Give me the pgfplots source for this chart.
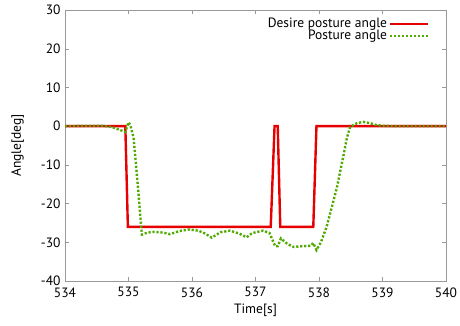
\documentclass[border=0pt]{standalone}
\usepackage{pgfplots}
\pgfplotsset{compat=1.18}
\usepackage{fontspec}
\setmainfont{PT Sans}
\definecolor{myred}{RGB}{230,0,0}
\definecolor{mygreen}{RGB}{80,170,0}
\begin{document}
\begin{tikzpicture}
\useasboundingbox (-65pt,-44pt) rectangle (395pt,281pt);
\begin{axis}[
  at={(0,0)}, anchor=south west,
  scale only axis, width=381pt, height=271pt,
  xmin=534, xmax=540, ymin=-40, ymax=30,
  xtick={534,535,...,540}, ytick={-40,-30,...,30},
  /pgf/number format/assume math mode=true,
  /pgf/number format/1000 sep={},
  tick label style={font=\fontsize{13.5}{15}\selectfont},
  label style={font=\fontsize{13.5}{15}\selectfont},
  xticklabel style={yshift=-3pt},
  yticklabel style={xshift=-1pt},
  xlabel={Time[s]}, ylabel={Angle[deg]},
  xlabel style={yshift=0pt},
  ylabel style={yshift=10pt},
  axis line style={gray!80},
  tick style={gray!80, thin},
  tick align=inside,
  major tick length=4pt,
  legend plot pos=right,
  legend cell align=right,
  legend image code/.code={\draw[#1] (0pt,0pt) -- (38pt,0pt);},
  legend style={draw=none, fill=none, at={(0.965,0.985)}, anchor=north east,
    font=\fontsize{13.5}{14}\selectfont, row sep=-3pt},
]
\addplot[myred, line width=2.4pt] coordinates {
(534,0) (534.95,0) (534.99,-26) (537.24,-26) (537.30,0) (537.35,0) (537.39,-26) (537.91,-26) (537.96,0) (540,0)};
\addlegendentry{Desire posture angle}
\addplot[mygreen, line width=2.4pt, dash pattern=on 2.2pt off 1.8pt] coordinates {
(534,0)(534.3,0.1)(534.6,0.1)(534.75,-0.3)(534.9,-1.2)(534.95,-1.5)(535.0,1.0)(535.03,0.2)(535.08,-3)(535.15,-16)(535.21,-28)(535.3,-27.5)(535.4,-27.3)(535.55,-27.5)(535.65,-27.9)(535.8,-27.1)(535.95,-26.7)(536.1,-27.0)(536.2,-27.7)(536.31,-28.8)(536.45,-27.4)(536.6,-27.0)(536.75,-27.8)(536.86,-28.7)(536.95,-27.6)(537.12,-27.0)(537.22,-27.6)(537.27,-29.5)(537.31,-31.0)(537.35,-31.0)(537.40,-29.0)(537.5,-30.4)(537.6,-31.2)(537.75,-31.0)(537.87,-30.9)(537.91,-30.2)(537.96,-32.0)(538.03,-30)(538.12,-26)(538.2,-21)(538.28,-16)(538.38,-8)(538.44,-3)(538.49,-0.2)(538.6,0.8)(538.7,1.1)(538.8,0.8)(538.9,0.3)(539.0,0.1)(539.2,0)(540,0)};
\addlegendentry{Posture angle}
\end{axis}
\end{tikzpicture}
\end{document}
